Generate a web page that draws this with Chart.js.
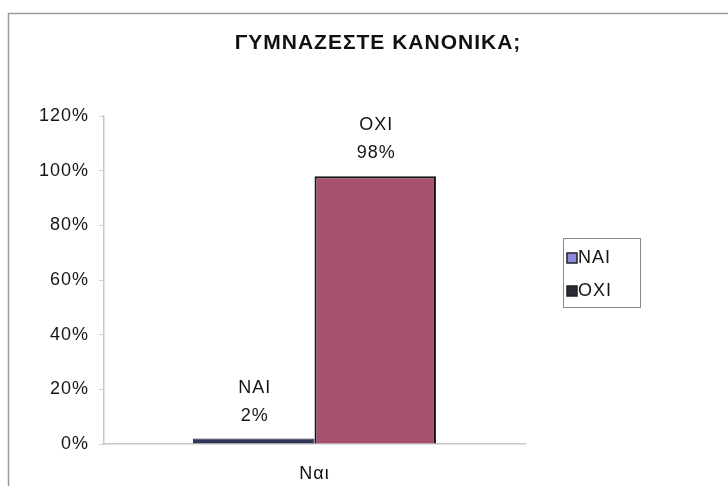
<!DOCTYPE html>
<html>
<head>
<meta charset="utf-8">
<script src="https://cdn.jsdelivr.net/npm/chart.js@4/dist/chart.umd.min.js"></script>
<style>
  html, body { margin: 0; padding: 0; background: #fff; }
  #wrap { width: 728px; height: 486px; }
</style>
</head>
<body>
<div id="wrap"><canvas id="exerciseChart" width="728" height="486"></canvas></div>
<script>
// Chart data
const categories = ['Ναι'];
const seriesNames = ['NAI', 'OXI'];
const naiValues = [2];
const oxiValues = [98];
const yMax = 120;
const yStep = 20;

const barColors = ['#2f3558', '#a8506f'];
const legendSwatches = ['#8a8ae0', '#2a2a36'];
const fontFamily = 'Arial, "Liberation Sans", sans-serif';

// The scanned original has wide text, so add a little letter spacing everywhere
const spacingPlugin = {
    id: 'spacing',
    beforeUpdate(chart) { chart.ctx.letterSpacing = '1px'; },
    beforeDraw(chart) { chart.ctx.letterSpacing = '1px'; },
};

// Outer frame of the chart object
const framePlugin = {
    id: 'frame',
    beforeDraw(chart) {
        const ctx = chart.ctx;
        ctx.save();
        ctx.strokeStyle = '#9a9a9a';
        ctx.lineWidth = 1.5;
        ctx.beginPath();
        ctx.moveTo(8.5, 490);
        ctx.lineTo(8.5, 13.5);
        ctx.lineTo(730, 13.5);
        ctx.stroke();
        ctx.restore();
    }
};

// Series name + value above each bar
const barLabelsPlugin = {
    id: 'barLabels',
    afterDatasetsDraw(chart) {
        const ctx = chart.ctx;
        ctx.save();
        ctx.font = '18px ' + fontFamily;
        ctx.fillStyle = '#151515';
        ctx.textAlign = 'center';
        ctx.textBaseline = 'middle';
        chart.data.datasets.forEach((ds, i) => {
            const meta = chart.getDatasetMeta(i);
            meta.data.forEach((bar, j) => {
                ctx.fillText(ds.label, bar.x + 1, bar.y - 51);
                ctx.fillText(ds.data[j] + '%', bar.x + 1, bar.y - 23);
            });
        });
        ctx.restore();
    }
};

// Boxed legend at the right, like the original sheet chart
const boxLegendPlugin = {
    id: 'boxLegend',
    afterDraw(chart) {
        const ctx = chart.ctx;
        const left = chart.chartArea.right + 38;
        const top = 238;
        ctx.save();
        ctx.strokeStyle = '#8a8a8a';
        ctx.lineWidth = 1;
        ctx.strokeRect(left + 0.5, top + 0.5, 77, 69);
        ctx.font = '18px ' + fontFamily;
        ctx.textBaseline = 'middle';
        chart.data.datasets.forEach((ds, i) => {
            const cy = top + 20 + i * 33;
            ctx.fillStyle = legendSwatches[i];
            ctx.fillRect(left + 4, cy - 5, 10, 10);
            ctx.strokeStyle = '#222';
            ctx.lineWidth = 1.5;
            ctx.strokeRect(left + 4, cy - 5, 10, 10);
            ctx.fillStyle = '#151515';
            ctx.fillText(ds.label, left + 15, cy);
        });
        ctx.restore();
    }
};

const ctx = document.getElementById('exerciseChart').getContext('2d');
new Chart(ctx, {
    type: 'bar',
    data: {
        labels: categories,
        datasets: [
            {
                label: seriesNames[0],
                data: naiValues,
                backgroundColor: barColors[0],
                borderColor: '#1e2035',
                borderWidth: 1,
            },
            {
                label: seriesNames[1],
                data: oxiValues,
                backgroundColor: barColors[1],
                borderColor: '#151515',
                borderWidth: 2,
            },
        ],
    },
    options: {
        responsive: false,
        animation: false,
        layout: {
            padding: { left: 28, right: 0, top: 0, bottom: 0 },
        },
        datasets: {
            bar: {
                categoryPercentage: 0.577,
                barPercentage: 1.0,
            },
        },
        scales: {
            x: {
                grid: { display: false },
                border: { color: '#c4c4c4', width: 1.5 },
                ticks: {
                    padding: 11,
                    color: '#111',
                    font: { family: fontFamily, size: 18 },
                },
                afterFit(axis) { axis.height = 42; },
            },
            y: {
                min: 0,
                max: yMax,
                ticks: {
                    stepSize: yStep,
                    padding: 10,
                    color: '#151515',
                    font: { family: fontFamily, size: 18 },
                    callback: (v) => v + '%',
                },
                grid: {
                    drawOnChartArea: false,
                    tickLength: 5,
                    color: '#d0d0d0',
                },
                border: { color: '#c8c8c8', width: 1.5 },
                afterFit(axis) { axis.width = 76; },
            },
            yRight: {
                position: 'right',
                display: true,
                ticks: { display: false },
                grid: { display: false },
                border: { display: false },
                afterFit(axis) { axis.width = 203; },
            },
        },
        plugins: {
            legend: { display: false },
            tooltip: { enabled: false },
            title: {
                display: true,
                text: 'ΓΥΜΝΑΖΕΣΤΕ ΚΑΝΟΝΙΚΑ;',
                color: '#111',
                font: { family: fontFamily, size: 21, weight: 'bold' },
                padding: { top: 31, bottom: 60 },
            },
        },
    },
    plugins: [spacingPlugin, framePlugin, barLabelsPlugin, boxLegendPlugin],
});
</script>
</body>
</html>
